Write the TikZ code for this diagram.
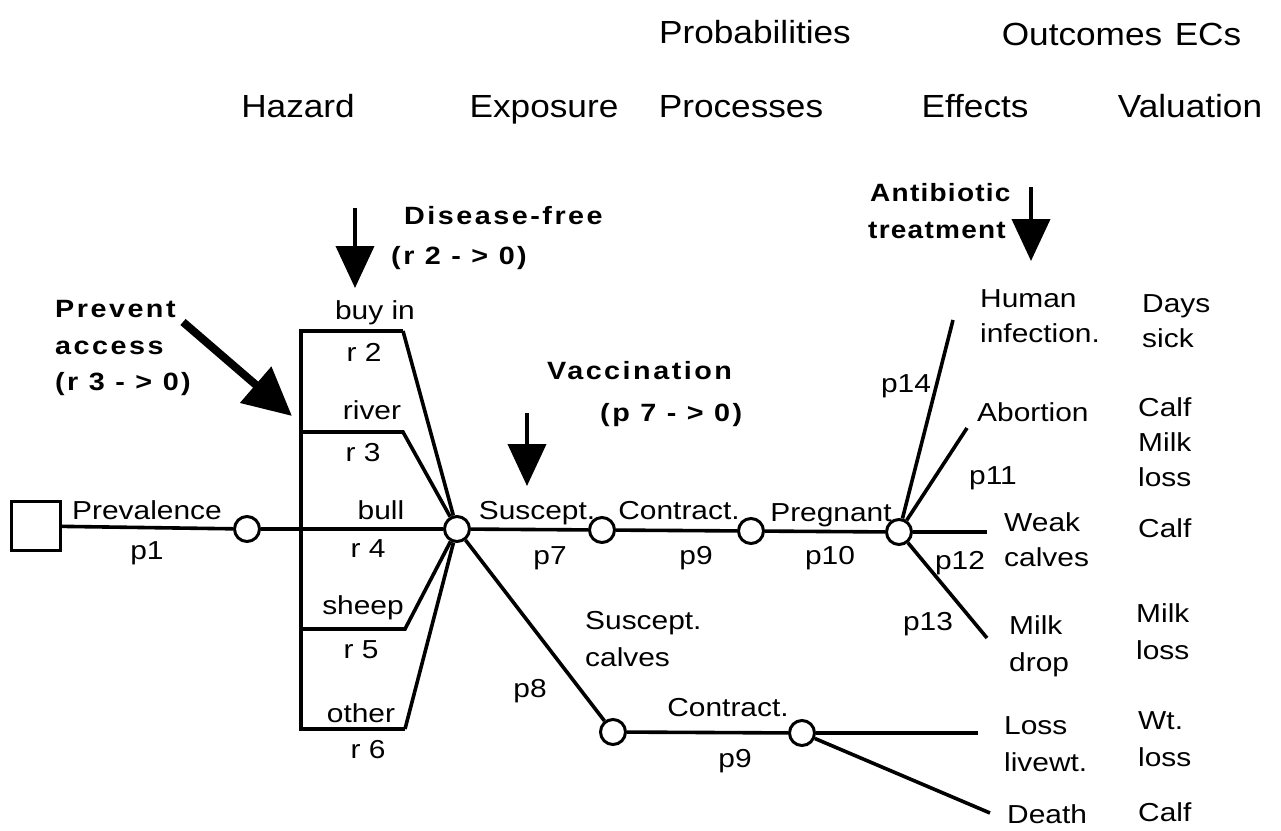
\documentclass[tikz,border=0pt]{standalone}
\usepackage{fontspec}
\setmainfont[FakeStretch=1.15]{Liberation Sans}
\newfontfamily\hdrfont[FakeStretch=1.1]{Liberation Sans}
\newfontfamily\annfont[FakeStretch=1.15,LetterSpace=10]{Liberation Sans}
\newfontfamily\annnarrow[FakeStretch=1.12,LetterSpace=5]{Liberation Sans}
\usetikzlibrary{arrows.meta}
\tikzset{
  body/.style={inner sep=0pt, font=\fontsize{26}{30}\selectfont, text height=18.6pt, text depth=0pt},
  bodyl/.style={body, anchor=west},
  hdr/.style={inner sep=0pt, font=\hdrfont\fontsize{32}{36}\selectfont, text height=23pt, text depth=0pt},
  ann/.style={inner sep=0pt, font=\annfont\bfseries\fontsize{25}{30}\selectfont, text height=18pt, text depth=0pt, anchor=west},
  annn/.style={ann, font=\annnarrow\bfseries\fontsize{25}{30}\selectfont},
  chance/.style={circle, draw, line width=3pt, fill=white, minimum size=25pt, inner sep=0pt},
  dec/.style={rectangle, draw, line width=3pt, minimum size=49pt, inner sep=0pt},
  ln/.style={line width=3.6pt, line join=miter},
  dropar/.style={line width=4pt, -{Triangle[length=42pt,width=38pt]}},
  bigar/.style={line width=8pt, -{Triangle[length=48pt,width=46pt]}},
}
\begin{document}
\begin{tikzpicture}[x=1pt,y=-1pt]
\useasboundingbox (0,0) rectangle (1281,830);
\fill[white] (0,0) rectangle (1281,830);

% headers
\node[hdr] (hProb) at (755,32) {Probabilities};
\node[hdr] (hOut) at (1082,34) {Outcomes};
\node[hdr] (hECs) at (1208,34) {ECs};
\node[hdr] (hHaz) at (298,106) {Hazard};
\node[hdr] (hExp) at (544,106) {Exposure};
\node[hdr] (hProc) at (741,106) {Processes};
\node[hdr] (hEff) at (975,106) {Effects};
\node[hdr] (hVal) at (1190,106) {Valuation};

% decision and chance nodes
\node[dec] (d) at (36,526) {};
\node[chance] (c1) at (247,529) {};
\node[chance] (c2) at (457,529) {};
\node[chance] (c3) at (602,530) {};
\node[chance] (c4) at (751,531) {};
\node[chance] (c5) at (899,532) {};
\node[chance] (c6) at (613,732) {};
\node[chance] (c7) at (802,733) {};

% box corners
\coordinate (bTL) at (301,331);
\coordinate (bBL) at (301,729);
\coordinate (k2) at (403,331);
\coordinate (l3) at (301,432);
\coordinate (k3) at (403,432);
\coordinate (l5) at (301,629);
\coordinate (k5) at (405,629);
\coordinate (k6) at (405,729);

% end points
\coordinate (eHum) at (953,320);
\coordinate (eAbo) at (967,428);
\coordinate (eWeak) at (987,532);
\coordinate (eMilk) at (987,638);
\coordinate (eLoss) at (978,733);
\coordinate (eDeath) at (990,813);

% connectors
\draw[ln] (d) -- (c1);
\draw[ln] (c1) -- (c2);
\draw[ln] (k2) -- (bTL) -- (bBL) -- (k6);
\draw[ln] (k2) -- (c2);
\draw[ln] (l3) -- (k3) -- (c2);
\draw[ln] (l5) -- (k5) -- (c2);
\draw[ln] (k6) -- (c2);
\draw[ln] (c2) -- (c3);
\draw[ln] (c3) -- (c4);
\draw[ln] (c4) -- (c5);
\draw[ln] (c2) -- (c6);
\draw[ln] (c6) -- (c7);
\draw[ln] (c5) -- (eHum);
\draw[ln] (c5) -- (eAbo);
\draw[ln] (c5) -- (eWeak);
\draw[ln] (c5) -- (eMilk);
\draw[ln] (c7) -- (eLoss);
\draw[ln] (c7) -- (eDeath);

% intervention arrows
\coordinate (aDs) at (355,208);
\coordinate (aDe) at (355,288);
\draw[dropar] (aDs) -- (aDe);
\coordinate (aVs) at (527,413);
\coordinate (aVe) at (527,486);
\draw[dropar] (aVs) -- (aVe);
\coordinate (aAs) at (1031,187);
\coordinate (aAe) at (1031,261);
\draw[dropar] (aAs) -- (aAe);
\coordinate (aPs) at (183,322);
\coordinate (aPe) at (292,416);
\draw[bigar] (aPs) -- (aPe);

% annotation texts
\node[ann] (tDis1) at (404,215) {Disease-free};
\node[ann] (tDis2) at (391,255) {(r 2 - > 0)};
\node[ann] (tPre1) at (55,308) {Prevent};
\node[ann] (tPre2) at (55,345) {access};
\node[ann] (tPre3) at (55,381) {(r 3 - > 0)};
\node[ann] (tVac1) at (547,370) {Vaccination};
\node[ann] (tVac2) at (600,412) {(p 7 - > 0)};
\node[annn] (tAnt1) at (870,192) {Antibiotic};
\node[annn] (tAnt2) at (868,229) {treatment};

% branch labels
\node[body] (tPrev) at (147,510) {Prevalence};
\node[body] (tp1) at (147,550) {p1};
\node[body] (tbuy) at (375,310) {buy in};
\node[body] (tr2) at (364,352) {r 2};
\node[body] (triv) at (372,410) {river};
\node[body] (tr3) at (363,452) {r 3};
\node[body] (tbull) at (381,510) {bull};
\node[body] (tr4) at (368,548) {r 4};
\node[body] (tshp) at (363,605) {sheep};
\node[body] (tr5) at (361,649) {r 5};
\node[body] (toth) at (361,713) {other};
\node[body] (tr6) at (368,749) {r 6};
\node[body] (tSus) at (537,510) {Suscept.};
\node[body] (tp7) at (550,555) {p7};
\node[body] (tCon) at (679,510) {Contract.};
\node[body] (tp9a) at (696,555) {p9};
\node[body] (tPreg) at (831,512) {Pregnant};
\node[body] (tp10) at (830,555) {p10};
\node[bodyl] (tSc1) at (585,620) {Suscept.};
\node[bodyl] (tSc2) at (585,657) {calves};
\node[body] (tp8) at (530,688) {p8};
\node[body] (tCon2) at (728,707) {Contract.};
\node[body] (tp9b) at (735,758) {p9};
\node[body] (tp14) at (906,383) {p14};
\node[body] (tp11) at (993,475) {p11};
\node[body] (tp12) at (960,560) {p12};
\node[body] (tp13) at (928,621) {p13};

% outcomes
\node[bodyl] (oHum1) at (980,298) {Human};
\node[bodyl] (oHum2) at (980,333) {infection.};
\node[bodyl] (oAbo) at (977,412) {Abortion};
\node[bodyl] (oWk1) at (1004,522) {Weak};
\node[bodyl] (oWk2) at (1004,557) {calves};
\node[bodyl] (oMk1) at (1009,625) {Milk};
\node[bodyl] (oMk2) at (1009,662) {drop};
\node[bodyl] (oLs1) at (1004,725) {Loss};
\node[bodyl] (oLs2) at (1004,762) {livewt.};
\node[bodyl] (oDth) at (1007,814) {Death};

% valuation
\node[bodyl] (vDay1) at (1142,303) {Days};
\node[bodyl] (vDay2) at (1142,338) {sick};
\node[bodyl] (vAb1) at (1138,407) {Calf};
\node[bodyl] (vAb2) at (1138,442) {Milk};
\node[bodyl] (vAb3) at (1138,477) {loss};
\node[bodyl] (vWk) at (1138,528) {Calf};
\node[bodyl] (vMk1) at (1136,613) {Milk};
\node[bodyl] (vMk2) at (1136,650) {loss};
\node[bodyl] (vLs1) at (1138,720) {Wt.};
\node[bodyl] (vLs2) at (1138,757) {loss};
\node[bodyl] (vDth) at (1138,812) {Calf};
\end{tikzpicture}
\end{document}
